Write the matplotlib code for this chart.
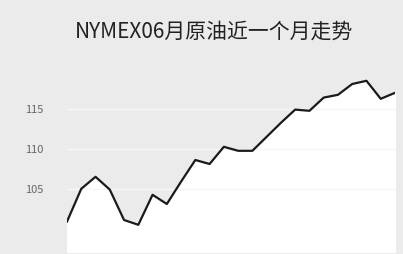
import matplotlib.pyplot as plt

plt.rcParams['font.family'] = ['Noto Sans CJK SC', 'DejaVu Sans']

# 原油价格 (近一个月)
days = list(range(24))
prices = [100.9, 105.0, 106.5, 104.9, 101.1, 100.5, 104.25, 103.1, 105.9, 108.6,
          108.1, 110.25, 109.75, 109.75, 111.5, 113.25, 114.9, 114.75, 116.4, 116.75,
          118.1, 118.5, 116.25, 117.0]
yticks = [105, 110, 115]
title = 'NYMEX06月原油近一个月走势'

bg = '#ebebeb'
fig = plt.figure(figsize=(4.03, 2.54), dpi=100, facecolor=bg)
ax = fig.add_axes([67 / 403, 2 / 254, 328 / 403, 192 / 254])
ax.set_facecolor(bg)

ax.fill_between(days, prices, 97, color='white', zorder=1)
ax.plot(days, prices, color='#1a1a1a', lw=1.6, zorder=3)

ax.set_xlim(0, 23)
ax.set_ylim(97.1, 121.1)
ax.set_yticks(yticks)
ax.set_yticklabels([str(v) for v in yticks], fontsize=8, color='#666666')
ax.tick_params(axis='y', length=0, pad=17)
ax.set_xticks([])
ax.grid(axis='y', color='#f6f6f6', lw=1, zorder=0)
for s in ax.spines.values():
    s.set_visible(False)

fig.text(0.53, 0.874, title, ha='center', va='center', fontsize=15, color='#222222')

fig.savefig('out.png', dpi=100, facecolor=bg)
